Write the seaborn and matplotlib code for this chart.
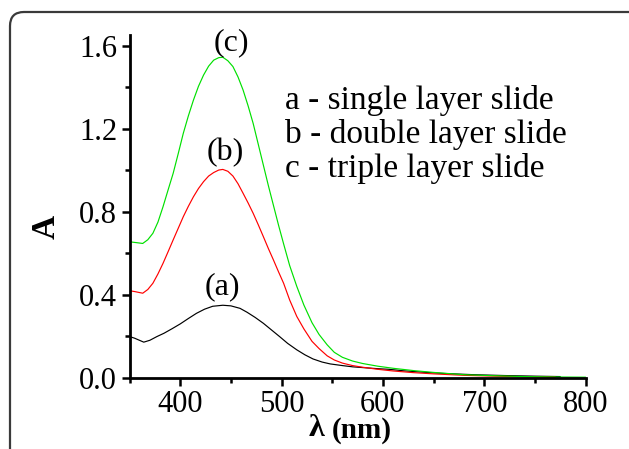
import numpy as np
import pandas as pd
import matplotlib
matplotlib.use("Agg")
import matplotlib.pyplot as plt
from matplotlib.patches import FancyBboxPatch
from matplotlib.ticker import MultipleLocator
import seaborn as sns

# ---- data ----
wl_a = [350, 355, 364, 370, 377, 384, 392, 400, 408, 416, 424, 432, 442, 450,
        459, 466, 474, 482, 490, 498, 506, 515, 523, 531, 540, 548, 560, 570,
        581, 595, 606, 620, 640, 660, 690, 720, 750, 775]
abs_a = [0.198, 0.190, 0.171, 0.180, 0.198, 0.214, 0.236, 0.259, 0.285, 0.310,
         0.330, 0.344, 0.349, 0.346, 0.334, 0.315, 0.290, 0.262, 0.230, 0.198,
         0.165, 0.134, 0.110, 0.090, 0.075, 0.066, 0.058, 0.052, 0.048, 0.043,
         0.040, 0.033, 0.026, 0.020, 0.014, 0.010, 0.007, 0.005]

wl_b = [350, 355, 363, 368, 373, 378, 383, 388, 393, 398, 403, 408, 413, 418,
        423, 428, 433, 438, 442, 447, 452, 457, 462, 467, 472, 477, 482, 487,
        492, 497, 502, 508, 515, 522, 530, 537, 545, 552, 560, 570, 580, 595,
        610, 630, 650, 680, 710, 740, 770]
abs_b = [0.419, 0.415, 0.407, 0.425, 0.455, 0.500, 0.551, 0.607, 0.664, 0.720,
         0.776, 0.826, 0.872, 0.912, 0.945, 0.972, 0.989, 1.001, 1.004, 0.995,
         0.972, 0.935, 0.889, 0.842, 0.792, 0.737, 0.680, 0.622, 0.567, 0.510,
         0.455, 0.374, 0.295, 0.235, 0.175, 0.140, 0.105, 0.085, 0.070, 0.058,
         0.050, 0.040, 0.032, 0.024, 0.018, 0.011, 0.007, 0.004, 0.003]

wl_c = [350, 355, 363, 368, 373, 378, 383, 388, 393, 398, 403, 408, 413, 418,
        423, 428, 433, 438, 442, 447, 452, 457, 462, 467, 472, 477, 482, 487,
        492, 497, 502, 508, 515, 522, 530, 537, 545, 552, 560, 570, 580, 595,
        610, 630, 650, 680, 710, 740, 770, 800]
abs_c = [0.655, 0.652, 0.647, 0.665, 0.696, 0.750, 0.824, 0.905, 0.985, 1.080,
         1.178, 1.262, 1.338, 1.405, 1.459, 1.502, 1.531, 1.543, 1.545, 1.528,
         1.500, 1.450, 1.387, 1.310, 1.225, 1.125, 1.025, 0.925, 0.830, 0.735,
         0.645, 0.540, 0.440, 0.350, 0.265, 0.208, 0.158, 0.122, 0.098, 0.080,
         0.068, 0.055, 0.045, 0.034, 0.025, 0.014, 0.009, 0.005, 0.003, 0.002]

series_names = ["a", "b", "c"]
series_colors = ["#000000", "#ff0000", "#00e000"]
curve_labels = ["(a)", "(b)", "(c)"]
label_pos_wl = [442, 444, 450]
label_pos_A = [0.44, 1.085, 1.615]
legend_lines = ["a - single layer slide", "b - double layer slide",
                "c - triple layer slide"]
x_ticks = [400, 500, 600, 700, 800]
y_ticks = [0.0, 0.4, 0.8, 1.2, 1.6]

df = pd.concat([
    pd.DataFrame({"wl": wl_a, "A": abs_a, "s": "a"}),
    pd.DataFrame({"wl": wl_b, "A": abs_b, "s": "b"}),
    pd.DataFrame({"wl": wl_c, "A": abs_c, "s": "c"}),
], ignore_index=True)

sns.set_style("ticks")
plt.rcParams["font.family"] = ["Liberation Serif", "DejaVu Serif"]
plt.rcParams["text.color"] = "black"
plt.rcParams["axes.labelcolor"] = "black"
plt.rcParams["xtick.color"] = "black"
plt.rcParams["ytick.color"] = "black"

fig = plt.figure(figsize=(6.29, 4.49), dpi=100)
ax = fig.add_axes([0.206, 0.159, 0.931 - 0.206, 0.921 - 0.159])

sns.lineplot(data=df, x="wl", y="A", hue="s", hue_order=series_names,
             palette=dict(zip(series_names, series_colors)), estimator=None,
             sort=False, legend=False, linewidth=0.85, ax=ax)

ax.set_xlim(350, 800)
ax.set_ylim(0, 1.65)
ax.set_xticks(x_ticks)
ax.set_yticks(y_ticks)
ax.set_yticklabels([f"{v:.1f}" for v in y_ticks])
ax.xaxis.set_minor_locator(MultipleLocator(50))
ax.yaxis.set_minor_locator(MultipleLocator(0.2))
ax.tick_params(axis="both", which="major", direction="out", length=6,
               width=1.8, labelsize=22, pad=3, color="black",
               labelcolor="black")
ax.tick_params(axis="both", which="minor", direction="out", length=3.5,
               width=1.8, color="black")
for side in ["top", "right"]:
    ax.spines[side].set_visible(False)
for side in ["left", "bottom"]:
    ax.spines[side].set_linewidth(2)
    ax.spines[side].set_color("black")
ax.set_xlabel("")
ax.set_ylabel("")

for lab, x, y in zip(curve_labels, label_pos_wl, label_pos_A):
    ax.text(x, y, lab, ha="center", va="center", fontsize=23, color="black")

for i, line in enumerate(legend_lines):
    ax.text(503, 1.295 - i * 0.163, line, ha="left", va="baseline",
            fontsize=24, color="black")

fig.text(0.073, 0.494, "A", rotation=90, ha="center", va="center",
         fontsize=24, fontweight="bold", color="black")
fig.text(0.503, 0.030, "λ", ha="center", va="baseline", fontsize=23,
         fontweight="bold", color="black")
fig.text(0.528, 0.026, "(nm)", ha="left", va="baseline", fontsize=21,
         fontweight="bold", color="black")

frame = FancyBboxPatch((10, -60), 700, 437 + 60,
                       boxstyle="round,pad=0,rounding_size=14",
                       transform=None, facecolor="none", edgecolor="#3a3a3a",
                       linewidth=1.6)
fig.patches.append(frame)

fig.savefig("out.png", dpi=100)
